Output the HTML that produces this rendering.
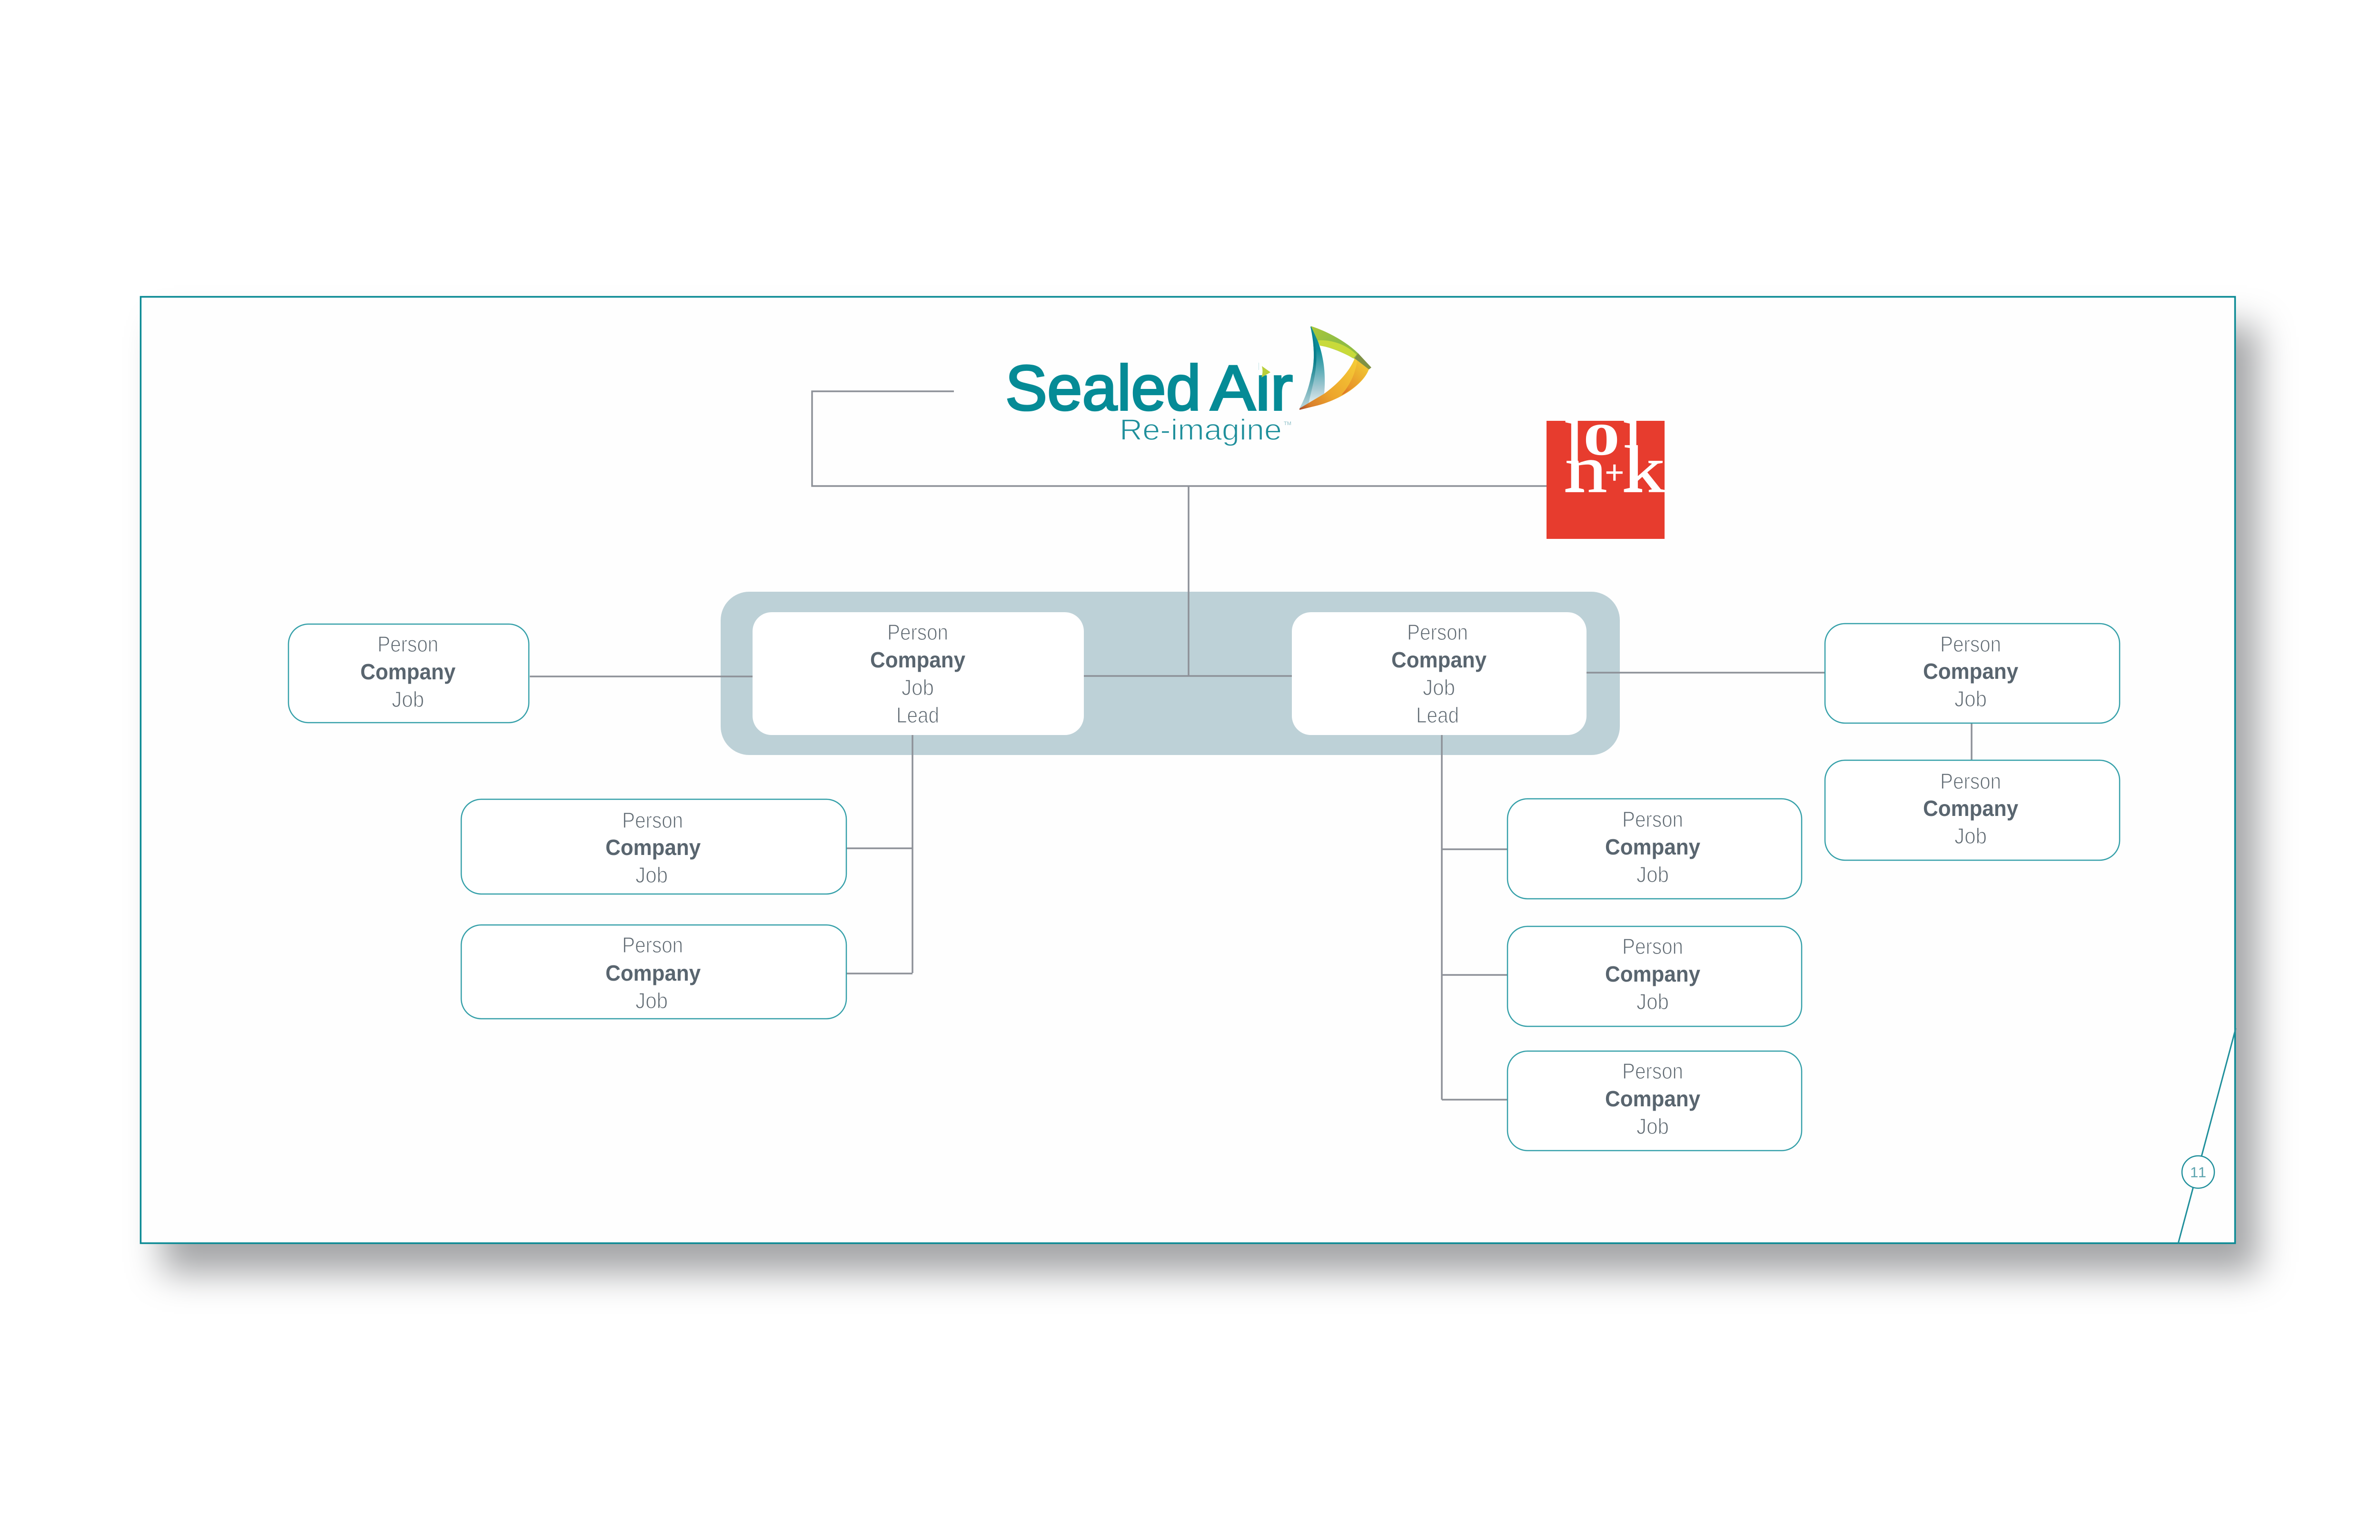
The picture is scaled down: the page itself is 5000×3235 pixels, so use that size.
<!DOCTYPE html>
<html><head><meta charset="utf-8"><style>
html,body{margin:0;padding:0;background:#fff;width:5000px;height:3235px;overflow:hidden}
#f{position:absolute;left:294px;top:622px;width:4403px;height:1991px;box-sizing:border-box;background:#fefefe;box-shadow:47px 62px 70px #a5a6a8}
svg{position:absolute;left:0;top:0}
.p{font:46px "Liberation Sans",sans-serif;fill:#626c74;stroke:#fff;stroke-width:1.3px}
.c{font:bold 46px "Liberation Sans",sans-serif;fill:#59656f}
.b{fill:#fff;stroke:#35a0a9;stroke-width:2.500}
.l{stroke:#8d9198;stroke-width:3.500;fill:none}
</style></head><body>
<div id="f"></div>
<svg width="5000" height="3235" viewBox="0 0 5000 3235" text-anchor="middle">
<rect x="295.500" y="623.500" width="4400" height="1988" fill="none" stroke="#0b8a94" stroke-width="3.500"/>
<path d="M4697 2160L4576 2612" stroke="#1f8f9b" stroke-width="3" fill="none"/>
<ellipse cx="4618" cy="2462" rx="34" ry="34" fill="#fff" stroke="#1f8f9b" stroke-width="2.500"/>
<text x="4618" y="2473" font-family="Liberation Sans" font-size="31" fill="#5ba3ae" textLength="34" lengthAdjust="spacing">11</text>

<rect x="1514" y="1243" width="1889" height="343" rx="60" fill="#bdd1d7"/>
<path class="l" d="M2004 822H1706V1021H3249M2497 1021V1420M1113 1421H1581M2277 1420H2714M3333 1413H3833M4142 1519V1597M1917 1544V2044M1778 1782H1917M1778 2045H1917M3029 1544V2310M3029 1784H3167M3029 2048H3167M3029 2310H3167"/>
<rect x="1581" y="1286" width="696" height="258" rx="40" fill="#fff"/>
<rect x="2714" y="1286" width="619" height="258" rx="40" fill="#fff"/>

<rect class="b" x="606" y="1311" width="505" height="207" rx="42"/>
<rect class="b" x="3834" y="1310" width="619" height="209" rx="42"/>
<rect class="b" x="3834" y="1597" width="619" height="210" rx="42"/>
<rect class="b" x="969" y="1679" width="809" height="199" rx="42"/>
<rect class="b" x="969" y="1943" width="809" height="197" rx="42"/>
<rect class="b" x="3167" y="1678" width="618" height="210" rx="42"/>
<rect class="b" x="3167" y="1946" width="618" height="210" rx="42"/>
<rect class="b" x="3167" y="2208" width="618" height="209" rx="42"/>

<text class="p" x="1928" y="1344" textLength="128" lengthAdjust="spacingAndGlyphs">Person</text><text class="c" x="1928" y="1402" textLength="200" lengthAdjust="spacingAndGlyphs">Company</text><text class="p" x="1928" y="1460" textLength="68" lengthAdjust="spacingAndGlyphs">Job</text><text class="p" x="1928" y="1518" textLength="90" lengthAdjust="spacingAndGlyphs">Lead</text>
<text class="p" x="3020" y="1344" textLength="128" lengthAdjust="spacingAndGlyphs">Person</text><text class="c" x="3023" y="1402" textLength="200" lengthAdjust="spacingAndGlyphs">Company</text><text class="p" x="3023" y="1460" textLength="68" lengthAdjust="spacingAndGlyphs">Job</text><text class="p" x="3020" y="1518" textLength="90" lengthAdjust="spacingAndGlyphs">Lead</text>

<text class="p" x="857" y="1369" textLength="128" lengthAdjust="spacingAndGlyphs">Person</text><text class="c" x="857" y="1427" textLength="200" lengthAdjust="spacingAndGlyphs">Company</text><text class="p" x="857" y="1485" textLength="68" lengthAdjust="spacingAndGlyphs">Job</text>
<text class="p" x="4140" y="1369" textLength="128" lengthAdjust="spacingAndGlyphs">Person</text><text class="c" x="4140" y="1426" textLength="200" lengthAdjust="spacingAndGlyphs">Company</text><text class="p" x="4140" y="1484" textLength="68" lengthAdjust="spacingAndGlyphs">Job</text>
<text class="p" x="4140" y="1657" textLength="128" lengthAdjust="spacingAndGlyphs">Person</text><text class="c" x="4140" y="1714" textLength="200" lengthAdjust="spacingAndGlyphs">Company</text><text class="p" x="4140" y="1772" textLength="68" lengthAdjust="spacingAndGlyphs">Job</text>
<text class="p" x="1371" y="1739" textLength="128" lengthAdjust="spacingAndGlyphs">Person</text><text class="c" x="1372" y="1796" textLength="200" lengthAdjust="spacingAndGlyphs">Company</text><text class="p" x="1369" y="1854" textLength="68" lengthAdjust="spacingAndGlyphs">Job</text>
<text class="p" x="1371" y="2001" textLength="128" lengthAdjust="spacingAndGlyphs">Person</text><text class="c" x="1372" y="2060" textLength="200" lengthAdjust="spacingAndGlyphs">Company</text><text class="p" x="1369" y="2118" textLength="68" lengthAdjust="spacingAndGlyphs">Job</text>
<text class="p" x="3472" y="1737" textLength="128" lengthAdjust="spacingAndGlyphs">Person</text><text class="c" x="3472" y="1795" textLength="200" lengthAdjust="spacingAndGlyphs">Company</text><text class="p" x="3472" y="1853" textLength="68" lengthAdjust="spacingAndGlyphs">Job</text>
<text class="p" x="3472" y="2004" textLength="128" lengthAdjust="spacingAndGlyphs">Person</text><text class="c" x="3472" y="2062" textLength="200" lengthAdjust="spacingAndGlyphs">Company</text><text class="p" x="3472" y="2120" textLength="68" lengthAdjust="spacingAndGlyphs">Job</text>
<text class="p" x="3472" y="2266" textLength="128" lengthAdjust="spacingAndGlyphs">Person</text><text class="c" x="3472" y="2324" textLength="200" lengthAdjust="spacingAndGlyphs">Company</text><text class="p" x="3472" y="2382" textLength="68" lengthAdjust="spacingAndGlyphs">Job</text>

<defs>
<linearGradient id="sl" gradientUnits="userSpaceOnUse" x1="0" y1="720" x2="0" y2="850"><stop offset=".1" stop-color="#0a8c98"/><stop offset=".75" stop-color="#a9cbd4"/><stop offset="1" stop-color="#e4f0f2"/></linearGradient>
<linearGradient id="sd" gradientUnits="userSpaceOnUse" x1="0" y1="720" x2="0" y2="850"><stop offset=".3" stop-color="#0a7f8c"/><stop offset="1" stop-color="#b0cfd6"/></linearGradient>
<linearGradient id="gr" gradientUnits="userSpaceOnUse" x1="2760" y1="690" x2="2850" y2="760"><stop offset="0" stop-color="#a7c63a"/><stop offset=".5" stop-color="#8fbd45"/><stop offset="1" stop-color="#93bb3e"/></linearGradient>
<linearGradient id="or" gradientUnits="userSpaceOnUse" x1="2850" y1="760" x2="2730" y2="860"><stop offset="0" stop-color="#f5cb36"/><stop offset=".55" stop-color="#eda52c"/><stop offset=".85" stop-color="#d97f2c"/><stop offset="1" stop-color="#a6482a"/></linearGradient>
<linearGradient id="o2" gradientUnits="userSpaceOnUse" x1="2870" y1="775" x2="2810" y2="835"><stop offset="0" stop-color="#f0c232"/><stop offset=".6" stop-color="#e8952a"/><stop offset="1" stop-color="#d4552a"/></linearGradient>
</defs>
<text x="2112" y="861" text-anchor="start" font-family="Liberation Sans" font-size="134" fill="#058b96" stroke="#058b96" stroke-width="4" textLength="411" lengthAdjust="spacingAndGlyphs">Sealed</text>
<text x="2543" y="861" text-anchor="start" font-family="Liberation Sans" font-size="134" fill="#058b96" stroke="#058b96" stroke-width="4" textLength="173" lengthAdjust="spacingAndGlyphs">Air</text>
<rect x="2645" y="756" width="20" height="30" fill="#fff"/>
<path d="M2651 769L2669 782 2650 793C2653 785 2653 777 2651 769Z" fill="#b9cf3a"/>
<text x="2352" y="924" text-anchor="start" font-family="Liberation Sans" font-size="62" fill="#1f8f9b" stroke="#fff" stroke-width="1.500" textLength="341" lengthAdjust="spacingAndGlyphs">Re-imagine</text>
<text x="2697" y="893" text-anchor="start" font-family="Liberation Sans" font-size="11" fill="#8fc0c8" textLength="16" lengthAdjust="spacingAndGlyphs">TM</text>
<path d="M2753 686C2761 720 2763 760 2755 787 2750 815 2740 840 2730 858L2782 827C2785 790 2784 740 2755 686Z" fill="url(#sl)"/>
<path d="M2753 686C2761 720 2763 760 2755 787 2750 815 2740 840 2730 858L2749 848C2756 815 2768 780 2765 735 2763 715 2758 700 2753 686Z" fill="url(#sd)"/>
<path d="M2754 685C2785 695 2825 715 2853 742L2880 772 2876 775 2852 757C2830 745 2800 730 2773 726Z" fill="url(#gr)"/>
<path d="M2768 715C2800 713 2830 725 2850 745L2843 753C2825 742 2800 730 2773 726Z" fill="#c8da3a"/>
<path d="M2846 753L2876 775C2868 800 2830 835 2767 852L2730 861 2730 858 2782 827C2812 805 2835 780 2846 753Z" fill="url(#or)"/>
<path d="M2851 757L2876 775C2868 795 2845 817 2818 830 2835 810 2848 785 2851 757Z" fill="url(#o2)"/>
<path d="M2853 742L2881 772 2876 776 2846 753Z" fill="#7f9144"/>

<rect x="3249" y="884" width="248" height="248" fill="#e73c2e"/>
<svg x="3249" y="884" width="248" height="248" viewBox="3249 884 248 248" text-anchor="start">
<g font-family="Liberation Serif" fill="#fff" stroke="#fff" stroke-width="1.500">
<text transform="translate(3286 1033) scale(.72 1)" font-size="218">l</text>
<text transform="translate(3288 1033) scale(1.26 1)" font-size="140">n</text>
<text transform="translate(3326 955) scale(1.15 1)" font-size="134" font-weight="bold" stroke="none">o</text>
<text x="3372" y="1016" font-size="70">+</text>
<text transform="translate(3409 1033) scale(.72 1)" font-size="218">l</text>
<text transform="translate(3411 1033) scale(1.23 1)" font-size="140">k</text>
</g>
</svg>
</svg>
</body></html>
